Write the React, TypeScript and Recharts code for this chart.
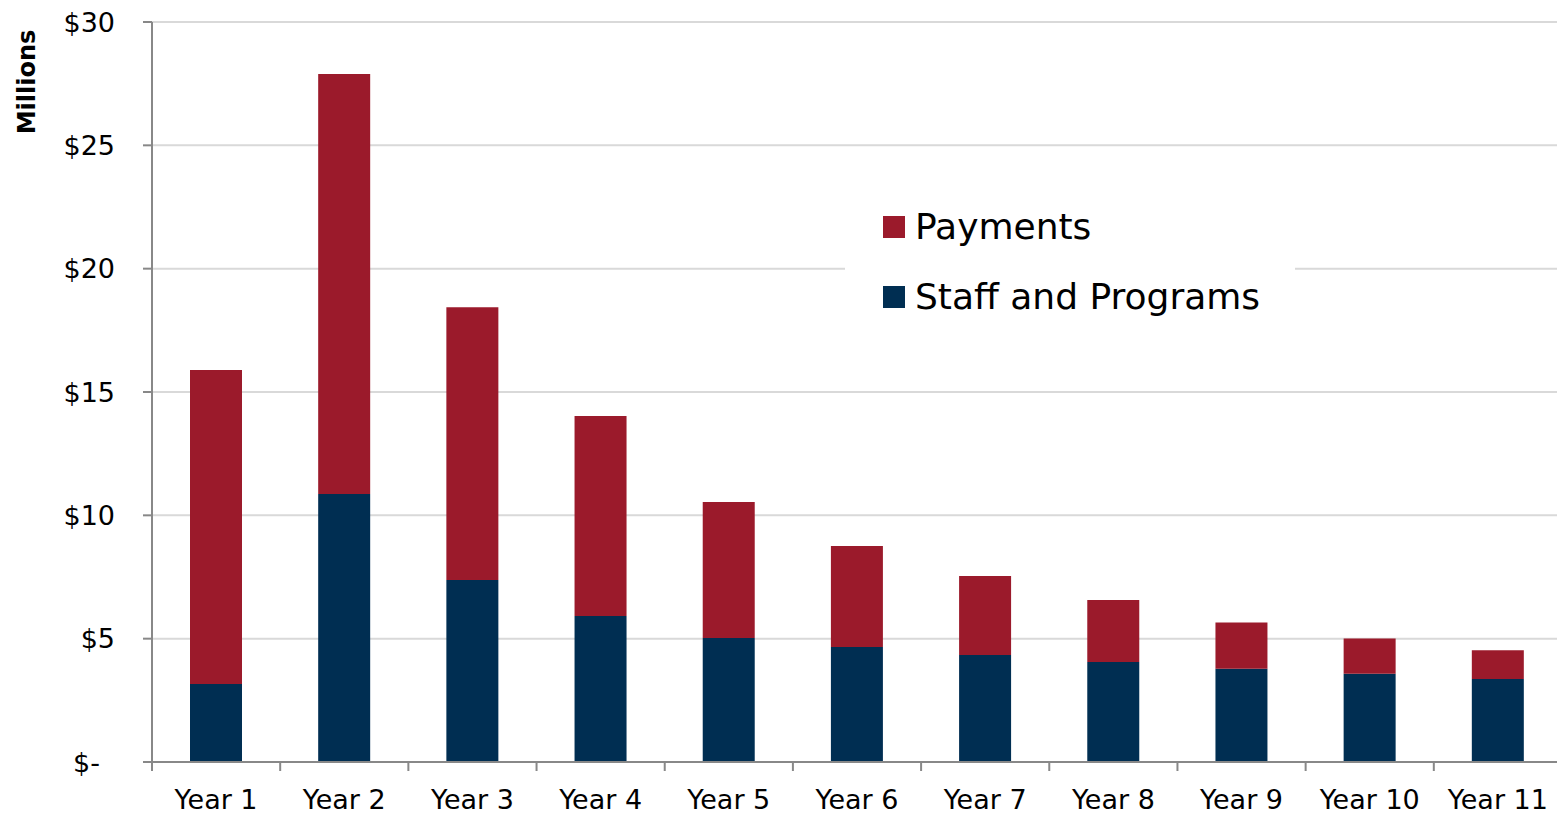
import React from 'react';
import { BarChart, Bar, XAxis, YAxis, CartesianGrid, Legend, Label } from 'recharts';

const years = ['Year 1', 'Year 2', 'Year 3', 'Year 4', 'Year 5', 'Year 6', 'Year 7', 'Year 8', 'Year 9', 'Year 10', 'Year 11'];
const staffAndPrograms = [3.16, 10.86, 7.38, 5.92, 5.03, 4.66, 4.34, 4.05, 3.78, 3.58, 3.36];
const payments = [12.73, 17.03, 11.06, 8.11, 5.51, 4.1, 3.2, 2.52, 1.88, 1.43, 1.17];
const yTicks = [0, 5, 10, 15, 20, 25, 30];

const data = years.map((year, i) => ({
  year,
  staff: staffAndPrograms[i],
  payments: payments[i],
}));

const NAVY = '#002e52';
const RED = '#9b1a2b';
const FONT = '"DejaVu Sans", Verdana, sans-serif';

const CHART_W = 1562;
const PLOT_LEFT = 152;
const PLOT_BOTTOM = 762;
const BAND = (CHART_W - PLOT_LEFT) / years.length;

const formatMoney = (v: number) => (v === 0 ? '$-' : `$${v}`);

const YTick = (props: any) => {
  const { y, payload } = props;
  const isZero = payload.value === 0;
  return (
    <text
      x={isZero ? 100 : 115}
      y={y}
      dy="0.36em"
      textAnchor="end"
      fontSize={27}
      fontFamily={FONT}
      fill="#000"
    >
      {formatMoney(payload.value)}
    </text>
  );
};

const XTick = (props: any) => {
  const { x, payload } = props;
  const left = x - BAND / 2;
  return (
    <g>
      <line x1={left} x2={left} y1={PLOT_BOTTOM} y2={PLOT_BOTTOM + 9} stroke="#888" strokeWidth={2} />
      <text x={x} y={PLOT_BOTTOM + 47} textAnchor="middle" fontSize={27} fontFamily={FONT} fill="#000">
        {payload.value}
      </text>
    </g>
  );
};

const legendItems = [
  { label: 'Payments', color: RED },
  { label: 'Staff and Programs', color: NAVY },
];

const ChartLegend = () => (
  <div style={{ background: '#fff', width: 450, height: 140, boxSizing: 'border-box' }}>
    {legendItems.map((item) => (
      <div key={item.label} style={{ display: 'flex', alignItems: 'center', height: 70, paddingLeft: 38 }}>
        <span style={{ width: 22, height: 22, background: item.color, display: 'inline-block', marginRight: 10, flexShrink: 0 }} />
        <span style={{ fontSize: 36, fontFamily: FONT, color: '#000', lineHeight: 1, whiteSpace: 'nowrap' }}>{item.label}</span>
      </div>
    ))}
  </div>
);

export default function App() {
  return (
    <div style={{ position: 'absolute', left: 0, top: 0, width: 1557, height: 814, overflow: 'hidden', background: '#fff' }}>
      <BarChart
        width={CHART_W}
        height={814}
        data={data}
        margin={{ top: 22, right: 0, left: 0, bottom: 0 }}
        barSize={52}
      >
        <CartesianGrid vertical={false} stroke="#d9d9d9" strokeWidth={2} />
        <XAxis
          dataKey="year"
          height={52}
          axisLine={{ stroke: '#888', strokeWidth: 2 }}
          tickLine={false}
          tick={<XTick />}
          interval={0}
        />
        <YAxis
          width={152}
          domain={[0, 30]}
          ticks={yTicks}
          interval={0}
          axisLine={{ stroke: '#888', strokeWidth: 2 }}
          tickLine={{ stroke: '#888', strokeWidth: 2 }}
          tickSize={9}
          tick={<YTick />}
        >
          <Label
            value="Millions"
            position="insideTopLeft"
            content={() => (
              <text
                x={0}
                y={0}
                transform="translate(35, 82) rotate(-90)"
                textAnchor="middle"
                fontSize={24}
                fontWeight="bold"
                fontFamily={FONT}
                fill="#000"
              >
                Millions
              </text>
            )}
          />
        </YAxis>
        <Legend
          layout="vertical"
          align="center"
          verticalAlign="middle"
          content={<ChartLegend />}
          wrapperStyle={{ left: 845, top: 192, width: 450 }}
        />
        <Bar dataKey="staff" name="Staff and Programs" stackId="a" fill={NAVY} isAnimationActive={false} />
        <Bar dataKey="payments" name="Payments" stackId="a" fill={RED} isAnimationActive={false} />
      </BarChart>
    </div>
  );
}
